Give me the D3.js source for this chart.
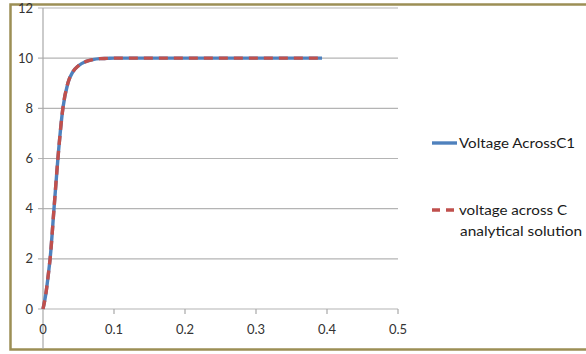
<!DOCTYPE html>
<html><head><meta charset="utf-8">
<script src="https://cdn.jsdelivr.net/npm/d3@7"></script>
<style>
html,body{margin:0;padding:0;background:#fff;}
svg{display:block;font-family:Lato,"Open Sans",sans-serif;}
</style></head>
<body><svg id="c" width="586" height="354"></svg>
<script>
// Data
const timeValues = [0, 0.004, 0.008, 0.01, 0.0155, 0.021, 0.028, 0.035, 0.042, 0.05, 0.06, 0.07, 0.08, 0.09, 0.1, 0.15, 0.2, 0.25, 0.3, 0.35, 0.393];
const simVoltage = [0, 0.6, 1.5, 2, 4, 6, 8, 9.0, 9.45, 9.7, 9.86, 9.94, 9.98, 9.99, 10, 10, 10, 10, 10, 10, 10];
const analyticVoltage = [0, 0.6, 1.5, 2, 4, 6, 8, 9.0, 9.45, 9.7, 9.86, 9.94, 9.98, 9.99, 10, 10, 10, 10, 10, 10, 10];
const xTicks = [0, 0.1, 0.2, 0.3, 0.4, 0.5];
const yTicks = [0, 2, 4, 6, 8, 10, 12];
const seriesNames = ["Voltage AcrossC1", "voltage across C", "analytical solution"];

const svg = d3.select("#c");
const x = d3.scaleLinear().domain([0, 0.5]).range([43, 398]);
const y = d3.scaleLinear().domain([0, 12]).range([309, 8]);

// frame
svg.append("path").attr("d", "M586,4.5H10.5V349.5H586")
  .attr("fill", "none").attr("stroke", "#9c8f55").attr("stroke-width", 2.5);

// gridlines
svg.append("g").selectAll("line").data(yTicks).join("line")
  .attr("x1", 38).attr("x2", x(0.5)).attr("y1", d => y(d)).attr("y2", d => y(d))
  .attr("stroke", "#b4b4b4").attr("stroke-width", 1.2);

// y axis line
svg.append("line").attr("x1", x(0)).attr("x2", x(0)).attr("y1", y(12)).attr("y2", 349)
  .attr("stroke", "#a8a8a8").attr("stroke-width", 1.2);

// x ticks
svg.append("g").selectAll("line").data(xTicks.slice(1)).join("line")
  .attr("x1", d => x(d)).attr("x2", d => x(d)).attr("y1", y(0)).attr("y2", y(0) + 5)
  .attr("stroke", "#a8a8a8").attr("stroke-width", 1.2);

// y labels
svg.append("g").selectAll("text").data(yTicks).join("text")
  .attr("x", 33).attr("y", d => y(d) + 4.5).attr("text-anchor", "end")
  .attr("font-size", 13).attr("fill", "#333").text(d => d);

// x labels
svg.append("g").selectAll("text").data(xTicks).join("text")
  .attr("x", d => x(d)).attr("y", 334).attr("text-anchor", "middle")
  .attr("font-size", 13).attr("fill", "#333").text(d => d);

const line = d3.line().x(d => x(d[0])).y(d => y(d[1])).curve(d3.curveMonotoneX);
const simData = timeValues.map((t, i) => [t, simVoltage[i]]);
const anData = timeValues.map((t, i) => [t, analyticVoltage[i]]);

svg.append("path").datum(simData).attr("d", line).attr("fill", "none")
  .attr("stroke", "#4f81bd").attr("stroke-width", 3.4);
svg.append("path").datum(anData).attr("d", line).attr("fill", "none")
  .attr("stroke", "#c0504d").attr("stroke-width", 3.4).attr("stroke-dasharray", "9,6");

// legend
svg.append("line").attr("x1", 432).attr("x2", 457).attr("y1", 143).attr("y2", 143)
  .attr("stroke", "#4f81bd").attr("stroke-width", 3.4);
svg.append("text").attr("x", 459).attr("y", 148).attr("font-size", 13.5).attr("fill", "#1a1a1a")
  .attr("textLength", 116).attr("lengthAdjust", "spacingAndGlyphs").text(seriesNames[0]);
svg.append("line").attr("x1", 432).attr("x2", 457).attr("y1", 210).attr("y2", 210)
  .attr("stroke", "#c0504d").attr("stroke-width", 3.4).attr("stroke-dasharray", "8,6");
svg.append("text").attr("x", 459).attr("y", 215).attr("font-size", 13.5).attr("fill", "#1a1a1a")
  .attr("textLength", 108).attr("lengthAdjust", "spacingAndGlyphs").text(seriesNames[1]);
svg.append("text").attr("x", 460).attr("y", 236).attr("font-size", 13.5).attr("fill", "#1a1a1a")
  .attr("textLength", 122).attr("lengthAdjust", "spacingAndGlyphs").text(seriesNames[2]);
</script></body></html>
